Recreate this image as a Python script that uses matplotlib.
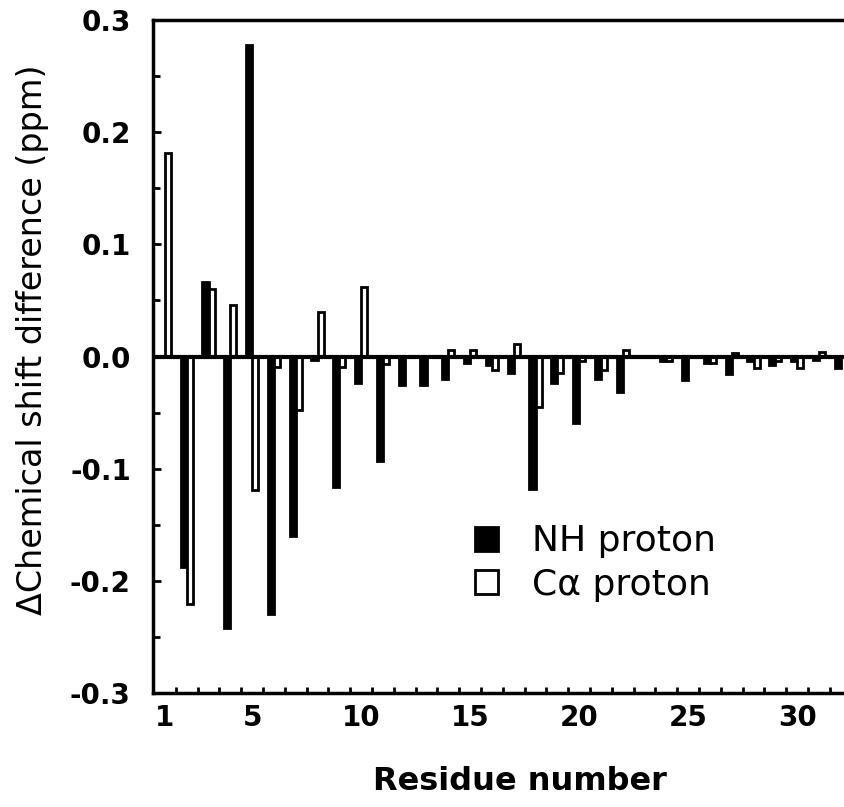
import numpy as np
import matplotlib
matplotlib.use("Agg")
import matplotlib.pyplot as plt
from matplotlib.ticker import FixedLocator

plt.rcParams['font.family'] = ['DejaVu Sans']
plt.rcParams['axes.unicode_minus'] = False

# --- data ---
residues = np.arange(1, 33)
nh_shift = [0.0, -0.188, 0.066, -0.242, 0.278, -0.230, -0.160, -0.003, -0.116, -0.024,
            -0.093, -0.025, -0.025, -0.020, -0.006, -0.008, -0.015, -0.118, -0.024, -0.059,
            -0.020, -0.032, 0.0, -0.004, -0.021, -0.006, -0.016, -0.004, -0.008, -0.004,
            -0.003, -0.010]
ca_shift = [0.181, -0.221, 0.060, 0.046, -0.119, -0.009, -0.048, 0.040, -0.009, 0.062,
            -0.007, 0.0, 0.0, 0.006, 0.006, -0.012, 0.011, -0.045, -0.015, -0.004,
            -0.012, 0.006, 0.0, -0.004, 0.0, -0.006, 0.003, -0.010, -0.004, -0.010,
            0.004, 0.0]
xtick_pos = [1, 5, 10, 15, 20, 25, 30]
ytick_pos = [0.3, 0.2, 0.1, 0.0, -0.1, -0.2, -0.3]
ytick_labels = ['0.3', '0.2', '0.1', '0.0', '-0.1', '-0.2', '-0.3']

W, H = 844, 807
fig = plt.figure(figsize=(W / 100, H / 100), dpi=100)
ax = fig.add_axes([153 / W, (H - 693) / H, (W - 153) / W, (693 - 20) / H])

w = 0.28
ax.bar(residues - w / 2, nh_shift, width=w, color='black', edgecolor='black',
       linewidth=2, label='NH proton', zorder=2)
ax.bar(residues + w / 2, ca_shift, width=w, color='white', edgecolor='black',
       linewidth=2, label='C\u03b1 proton', zorder=2)
ax.axhline(0, color='black', linewidth=3, zorder=3)

ax.set_xlim(0.45, 32.15)
ax.set_ylim(-0.3, 0.3)

for side in ['left', 'bottom', 'top']:
    ax.spines[side].set_linewidth(2.5)
ax.spines['right'].set_visible(False)

ax.xaxis.set_major_locator(FixedLocator(xtick_pos))
ax.xaxis.set_minor_locator(FixedLocator(residues + 0.5))
ax.set_xticklabels([str(t) for t in xtick_pos], fontsize=20, fontweight='bold')
ax.tick_params(axis='x', which='major', length=0, pad=8)
ax.tick_params(axis='x', which='minor', direction='in', length=4, width=2)

ax.yaxis.set_major_locator(FixedLocator(ytick_pos))
ax.yaxis.set_minor_locator(FixedLocator([0.25, 0.15, 0.05, -0.05, -0.15, -0.25]))
ax.set_yticklabels(ytick_labels, fontsize=20, fontweight='bold')
ax.tick_params(axis='y', which='major', direction='in', length=6, width=2, pad=16)
ax.tick_params(axis='y', which='minor', direction='in', length=5, width=2)

fig.text(33 / W, 1 - 340 / H, '\u0394Chemical shift difference (ppm)', rotation=90,
         ha='center', va='center', fontsize=24)
fig.text(520 / W, (H - 790) / H, 'Residue number', ha='center', va='baseline',
         fontsize=23, fontweight='bold')

ax.legend(loc='center left', bbox_to_anchor=(475 / W, 1 - 563 / H),
          bbox_transform=fig.transFigure, frameon=False, fontsize=26,
          handlelength=0.64, handleheight=0.64, handletextpad=0.94,
          labelspacing=0.26, borderpad=0, borderaxespad=0)

fig.savefig('out.png', dpi=100)
